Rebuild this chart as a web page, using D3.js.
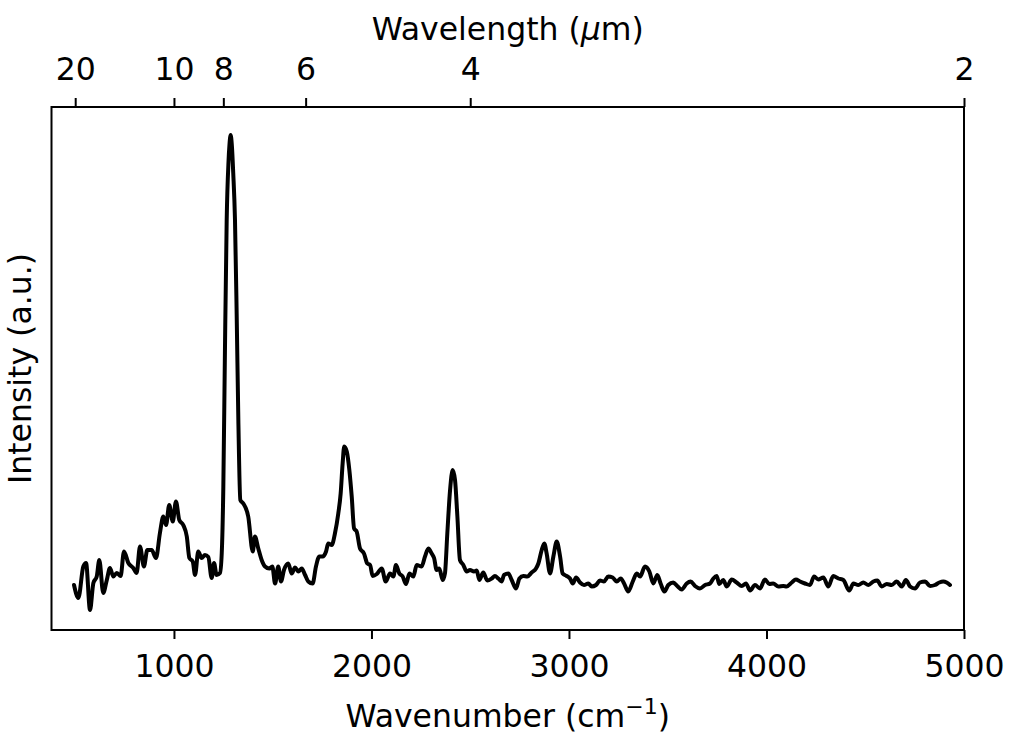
<!DOCTYPE html>
<html>
<head>
<meta charset="utf-8">
<script src="https://cdn.jsdelivr.net/npm/d3@7"></script>
<style>
  html, body { margin: 0; padding: 0; background: #fff; }
  svg { display: block; font-family: 'DejaVu Sans', sans-serif; }
</style>
</head>
<body>
<div id="chart"></div>
<script>
// spectrum (wavenumber in cm^-1, intensity in a.u.)
const wavenumber = [
  494, 516, 541, 555, 575, 592, 609, 622, 642, 660,
  676, 693, 710, 730, 747, 769, 794, 811, 828, 848,
  865, 887, 909, 929, 946, 960, 976, 994, 1010, 1027,
  1047, 1065, 1078, 1095, 1107, 1123, 1140, 1157, 1174, 1191,
  1203, 1216, 1233, 1242, 1250, 1258, 1267, 1276, 1281, 1287,
  1293, 1300, 1309, 1318, 1326, 1336, 1351, 1376, 1399, 1410,
  1427, 1444, 1461, 1483, 1498, 1512, 1528, 1542, 1557, 1579,
  1596, 1613, 1630, 1647, 1664, 1680, 1702, 1719, 1736, 1753,
  1770, 1781, 1799, 1815, 1832, 1844, 1854, 1862, 1875, 1888,
  1900, 1912, 1925, 1942, 1962, 1979, 1993, 2006, 2027, 2052,
  2072, 2094, 2111, 2124, 2141, 2158, 2175, 2192, 2212, 2229,
  2254, 2271, 2288, 2305, 2317, 2330, 2343, 2361, 2372, 2384,
  2398, 2411, 2423, 2435, 2448, 2465, 2482, 2499, 2519, 2533,
  2546, 2566, 2586, 2609, 2625, 2642, 2659, 2671, 2693, 2710,
  2732, 2749, 2769, 2789, 2811, 2833, 2845, 2862, 2875, 2887,
  2904, 2921, 2938, 2955, 2968, 2988, 3005, 3019, 3036, 3056,
  3076, 3098, 3115, 3137, 3157, 3177, 3199, 3221, 3242, 3262,
  3279, 3300, 3323, 3343, 3360, 3385, 3407, 3427, 3447, 3464,
  3483, 3503, 3528, 3548, 3571, 3596, 3616, 3638, 3663, 3689,
  3714, 3731, 3748, 3761, 3781, 3799, 3824, 3849, 3875, 3896,
  3917, 3942, 3967, 3992, 4014, 4034, 4060, 4085, 4102, 4128,
  4149, 4170, 4195, 4220, 4241, 4262, 4288, 4313, 4338, 4364,
  4389, 4419, 4440, 4465, 4490, 4516, 4541, 4561, 4583, 4609,
  4634, 4659, 4685, 4706, 4727, 4752, 4777, 4803, 4828, 4853,
  4875, 4895, 4912, 4929,
];

const intensity = [
  60, 34, 97, 104, 10, 64, 77, 110, 44, 70,
  94, 77, 84, 78, 127, 104, 94, 84, 137, 97,
  130, 130, 114, 164, 197, 180, 220, 187, 227, 190,
  180, 157, 114, 107, 80, 127, 114, 120, 116, 74,
  104, 80, 84, 124, 257, 524, 790, 905, 940, 960,
  940, 885, 790, 590, 390, 230, 223, 197, 127, 157,
  133, 110, 97, 93, 97, 63, 97, 67, 90, 103,
  83, 95, 87, 93, 80, 67, 63, 97, 117, 117,
  127, 143, 140, 163, 203, 243, 303, 337, 327, 290,
  237, 173, 167, 133, 123, 103, 100, 78, 82, 93,
  67, 83, 77, 100, 83, 77, 62, 83, 77, 100,
  97, 117, 133, 123, 114, 90, 93, 70, 83, 163,
  250, 290, 270, 197, 110, 100, 87, 90, 87, 89,
  70, 85, 69, 73, 78, 73, 67, 80, 83, 70,
  53, 73, 78, 77, 85, 93, 103, 130, 143, 123,
  83, 117, 147, 117, 83, 78, 73, 63, 75, 65,
  60, 63, 57, 60, 69, 67, 77, 75, 67, 73,
  63, 47, 67, 83, 77, 97, 87, 63, 80, 63,
  47, 60, 65, 58, 51, 63, 67, 58, 53, 60,
  63, 73, 78, 62, 70, 57, 71, 65, 58, 63,
  49, 60, 53, 71, 62, 63, 57, 58, 57, 65,
  71, 67, 63, 60, 77, 71, 75, 57, 78, 73,
  70, 49, 63, 60, 65, 60, 67, 69, 57, 62,
  60, 67, 57, 70, 57, 53, 65, 67, 58, 60,
  65, 67, 65, 60,
];

// tick labels
const wavenumberTicks = [1000, 2000, 3000, 4000, 5000];
const wavelengthTicks = [20, 10, 8, 6, 4, 2]; // micrometres

const width = 1024;
const height = 741;
const margin = { top: 107, right: 60, bottom: 111, left: 51.5 };
const fontSize = 31.5;

const svg = d3.select('#chart').append('svg')
  .attr('width', width)
  .attr('height', height);

const x = d3.scaleLinear()
  .domain([380, 5000])
  .range([margin.left, width - margin.right]);

const y = d3.scaleLinear()
  .domain([-30, 1016])
  .range([height - margin.bottom, margin.top]);

const data = wavenumber.map((w, i) => ({ w, v: intensity[i] }));

// spectrum
const line = d3.line()
  .x((d) => x(d.w))
  .y((d) => y(d.v))
  .curve(d3.curveMonotoneX);

svg.append('path')
  .datum(data)
  .attr('d', line)
  .attr('fill', 'none')
  .attr('stroke', '#000')
  .attr('stroke-width', 4)
  .attr('stroke-linejoin', 'round')
  .attr('stroke-linecap', 'round');

// bottom axis (wavenumber)
const xAxis = svg.append('g')
  .attr('transform', `translate(0,${height - margin.bottom})`)
  .call(d3.axisBottom(x)
    .tickValues(wavenumberTicks)
    .tickFormat(d3.format('d'))
    .tickSize(9)
    .tickSizeOuter(0));

// top axis (wavelength in um = 1e4 / wavenumber)
const topAxis = svg.append('g')
  .attr('transform', `translate(0,${margin.top})`)
  .call(d3.axisTop(x)
    .tickValues(wavelengthTicks.map((l) => 1e4 / l))
    .tickFormat((d) => d3.format('d')(Math.round(1e4 / d)))
    .tickSize(9)
    .tickSizeOuter(0));

[xAxis, topAxis].forEach((g) => {
  g.select('.domain').remove();
  g.selectAll('.tick line').attr('stroke', '#000').attr('stroke-width', 2);
  g.selectAll('.tick text')
    .attr('fill', '#000')
    .style('font-size', `${fontSize}px`)
    .style('font-family', "'DejaVu Sans', sans-serif")
    .attr('dy', null);
});
xAxis.selectAll('.tick text').attr('y', 47);
topAxis.selectAll('.tick text').attr('y', -27);

// frame
svg.append('rect')
  .attr('x', margin.left)
  .attr('y', margin.top)
  .attr('width', width - margin.right - margin.left)
  .attr('height', height - margin.bottom - margin.top)
  .attr('fill', 'none')
  .attr('stroke', '#000')
  .attr('stroke-width', 2);

const cx = (margin.left + width - margin.right) / 2;

// axis labels
const xLabel = svg.append('text')
  .attr('x', cx)
  .attr('y', 727)
  .attr('text-anchor', 'middle')
  .style('font-size', `${fontSize}px`);
xLabel.append('tspan').text('Wavenumber (cm');
xLabel.append('tspan')
  .attr('dy', -13)
  .style('font-size', `${fontSize * 0.7}px`)
  .text('−1');
xLabel.append('tspan').attr('dy', 13).text(')');

const topLabel = svg.append('text')
  .attr('x', cx)
  .attr('y', 40)
  .attr('text-anchor', 'middle')
  .style('font-size', `${fontSize}px`);
topLabel.append('tspan').text('Wavelength (');
topLabel.append('tspan').style('font-style', 'italic').text('μ');
topLabel.append('tspan').text('m)');

svg.append('text')
  .attr('transform', `translate(31,${(margin.top + height - margin.bottom) / 2}) rotate(-90)`)
  .attr('text-anchor', 'middle')
  .style('font-size', `${fontSize}px`)
  .text('Intensity (a.u.)');
</script>
</body>
</html>
